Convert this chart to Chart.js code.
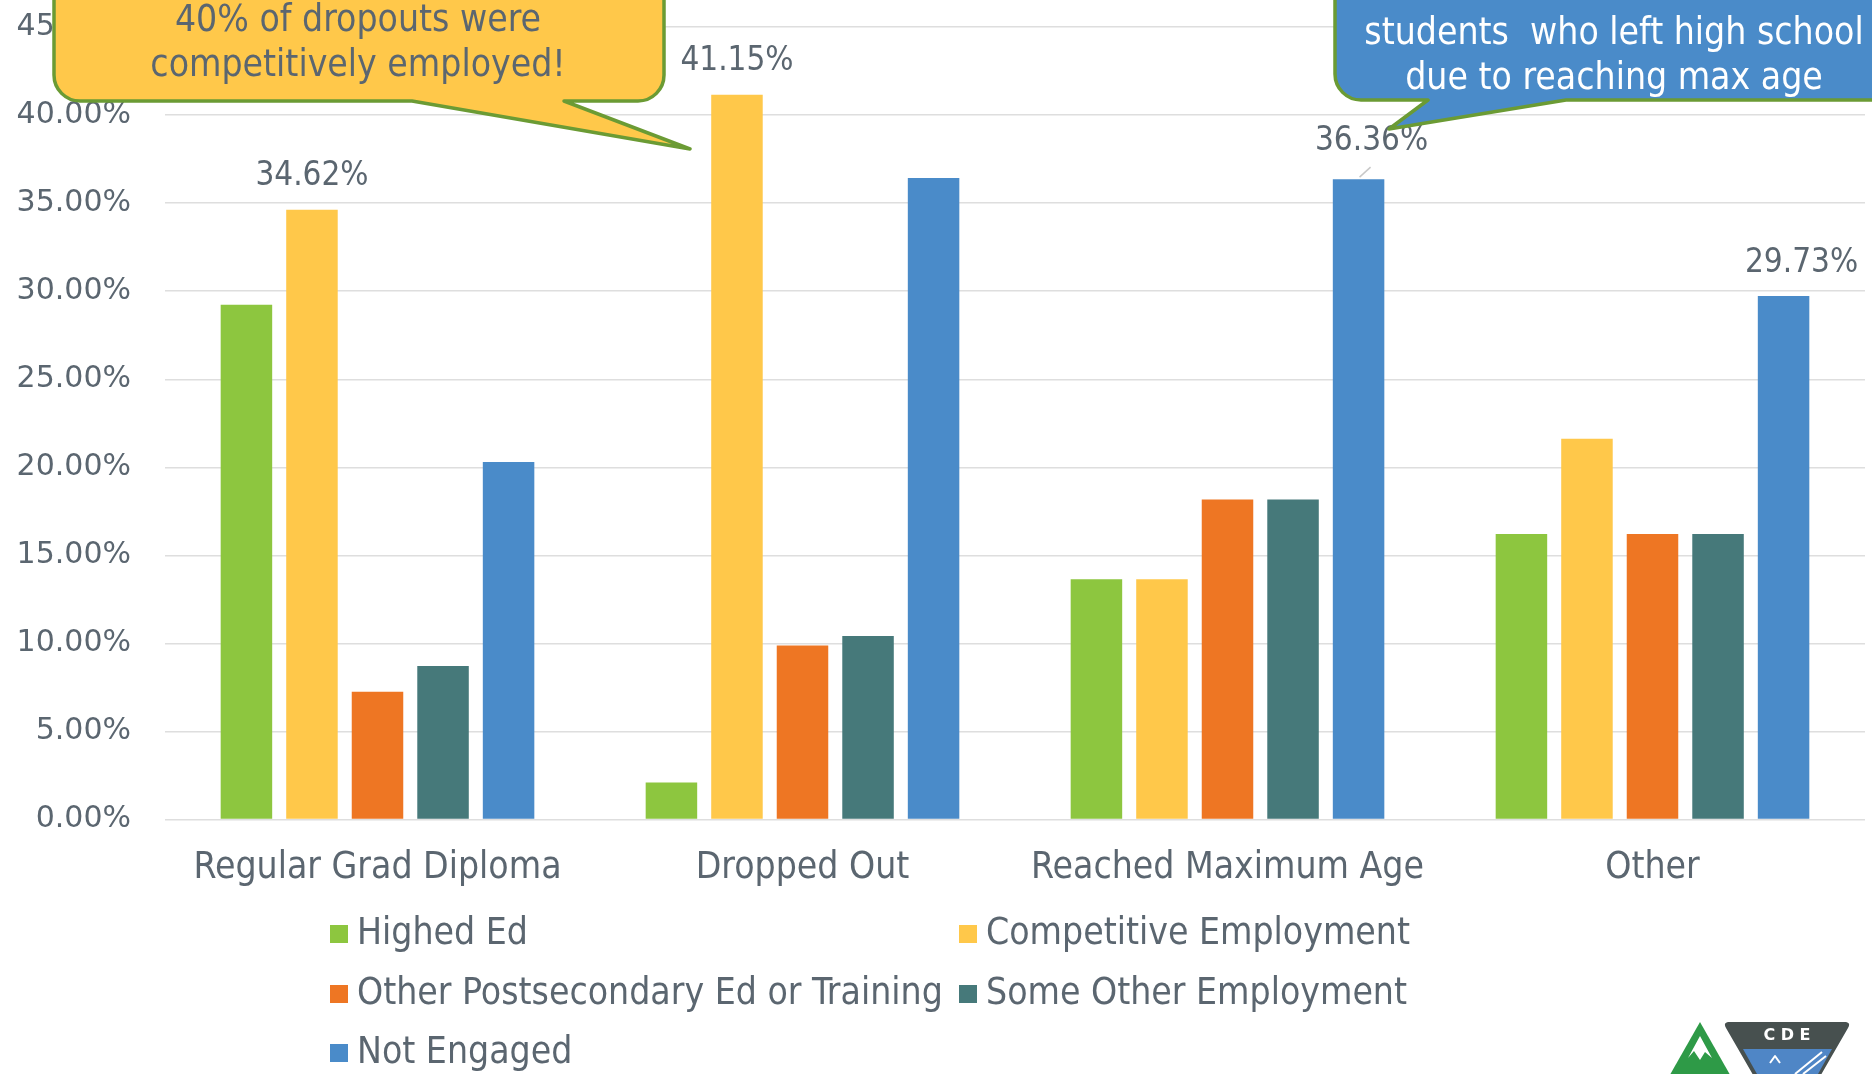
<!DOCTYPE html>
<html>
<head>
<meta charset="utf-8">
<script src="https://cdn.jsdelivr.net/npm/chart.js@4.4.0/dist/chart.umd.min.js"></script>
<style>
  html, body { margin: 0; padding: 0; background: #fff; }
  #wrap { width: 1872px; height: 1074px; position: relative; }
</style>
</head>
<body>
<div id="wrap"><canvas id="chart"></canvas></div>
<script>
// data
const categories = ["Regular Grad Diploma", "Dropped Out", "Reached Maximum Age", "Other"];
const seriesNames = ["Highed Ed", "Competitive Employment", "Other Postsecondary Ed or Training", "Some Other Employment", "Not Engaged"];
const highedEd = [29.23, 2.10, 13.64, 16.22];
const competitive = [34.62, 41.15, 13.64, 21.62];
const otherPostsec = [7.26, 9.88, 18.18, 16.22];
const someOther = [8.72, 10.43, 18.18, 16.22];
const notEngaged = [20.30, 36.42, 36.36, 29.73];
const yTicks = [0, 5, 10, 15, 20, 25, 30, 35, 40, 45];

const colors = ["#8dc63f", "#ffc84a", "#ee7623", "#46797a", "#4a8bc9"];
const textColor = "#5b6670";
const narrow = "'DejaVu Sans Condensed', 'DejaVu Sans', sans-serif";

// the tallest bar of each group carries its value
const labelOffsets = [[0, 33], [0, 33], [13, 38], [18, 33]];

const valueLabels = {
    id: "valueLabels",
    afterDatasetsDraw(chart) {
        const ctx = chart.ctx;
        ctx.save();
        ctx.font = "33px " + narrow;
        ctx.fillStyle = textColor;
        ctx.textAlign = "center";
        ctx.textBaseline = "middle";
        categories.forEach((c, i) => {
            let best = 0;
            chart.data.datasets.forEach((ds, d) => {
                if (ds.data[i] > chart.data.datasets[best].data[i]) best = d;
            });
            const bar = chart.getDatasetMeta(best).data[i];
            const [dx, dy] = labelOffsets[i];
            if (i === 2) {
                ctx.strokeStyle = "#c8c8c8";
                ctx.lineWidth = 1.5;
                ctx.beginPath();
                ctx.moveTo(bar.x + 1, bar.y - 2);
                ctx.lineTo(bar.x + 12, bar.y - 12);
                ctx.stroke();
            }
            const v = chart.data.datasets[best].data[i];
            ctx.fillText(v.toFixed(2) + "%", bar.x + dx, bar.y - dy);
        });
        ctx.restore();
    }
};

const gridLegend = {
    id: "gridLegend",
    afterDraw(chart) {
        const ctx = chart.ctx;
        const cols = [330, 959];
        const rows = [934, 994, 1053];
        ctx.save();
        ctx.font = "37px " + narrow;
        ctx.textBaseline = "middle";
        ctx.textAlign = "left";
        chart.data.datasets.forEach((ds, k) => {
            const x = cols[k % 2];
            const y = rows[Math.floor(k / 2)];
            ctx.fillStyle = ds.backgroundColor;
            ctx.fillRect(x, y - 9, 18, 18);
            ctx.fillStyle = textColor;
            ctx.fillText(ds.label, x + 27, y);
        });
        ctx.restore();
    }
};

function bubble(ctx, x0, y0, x1, y1, r, ta, tb, tip, fill) {
    ctx.beginPath();
    ctx.moveTo(x0 + r, y0);
    ctx.lineTo(x1 - r, y0);
    ctx.arcTo(x1, y0, x1, y0 + r, r);
    ctx.lineTo(x1, y1 - r);
    ctx.arcTo(x1, y1, x1 - r, y1, r);
    ctx.lineTo(tb, y1);
    ctx.lineTo(tip[0], tip[1]);
    ctx.lineTo(ta, y1);
    ctx.lineTo(x0 + r, y1);
    ctx.arcTo(x0, y1, x0, y1 - r, r);
    ctx.lineTo(x0, y0 + r);
    ctx.arcTo(x0, y0, x0 + r, y0, r);
    ctx.closePath();
    ctx.fillStyle = fill;
    ctx.fill();
    ctx.strokeStyle = "#6b9b34";
    ctx.lineWidth = 3.5;
    ctx.lineJoin = "round";
    ctx.stroke();
}

const callouts = {
    id: "callouts",
    afterDraw(chart) {
        const ctx = chart.ctx;
        ctx.save();
        bubble(ctx, 54, -80, 664, 101, 26, 412, 564, [690, 149], "#ffc84a");
        bubble(ctx, 1335, -80, 1920, 100, 26, 1428, 1566, [1389, 129], "#4a8bc9");
        ctx.font = "37px " + narrow;
        ctx.textAlign = "center";
        ctx.textBaseline = "middle";
        ctx.fillStyle = textColor;
        ctx.fillText("40% of dropouts were", 358, 21);
        ctx.fillText("competitively employed!", 358, 66);
        ctx.fillStyle = "#ffffff";
        ctx.fillText("students  who left high school", 1614, 34);
        ctx.fillText("due to reaching max age", 1614, 79);

        // CDE logo, bottom right
        ctx.fillStyle = "#2e9a47";
        ctx.beginPath();
        ctx.moveTo(1700, 1022);
        ctx.lineTo(1733, 1080);
        ctx.lineTo(1667, 1080);
        ctx.closePath();
        ctx.fill();
        ctx.fillStyle = "#ffffff";
        ctx.beginPath();
        ctx.moveTo(1700, 1036);
        ctx.lineTo(1712, 1058);
        ctx.lineTo(1705, 1052);
        ctx.lineTo(1700, 1060);
        ctx.lineTo(1694, 1051);
        ctx.lineTo(1688, 1058);
        ctx.closePath();
        ctx.fill();
        ctx.fillStyle = "#47504f";
        ctx.beginPath();
        ctx.moveTo(1728, 1022);
        ctx.lineTo(1846, 1022);
        ctx.quadraticCurveTo(1851, 1023, 1848, 1028);
        ctx.lineTo(1818, 1080);
        ctx.lineTo(1756, 1080);
        ctx.lineTo(1726, 1028);
        ctx.quadraticCurveTo(1723, 1023, 1728, 1022);
        ctx.closePath();
        ctx.fill();
        ctx.fillStyle = "#4f86c6";
        ctx.beginPath();
        ctx.moveTo(1743, 1049);
        ctx.lineTo(1832, 1049);
        ctx.lineTo(1818, 1074);
        ctx.lineTo(1757, 1074);
        ctx.closePath();
        ctx.fill();
        ctx.strokeStyle = "#ffffff";
        ctx.lineWidth = 2;
        ctx.beginPath();
        ctx.moveTo(1770, 1063); ctx.lineTo(1775, 1056); ctx.lineTo(1780, 1063);
        ctx.moveTo(1795, 1074); ctx.lineTo(1822, 1052);
        ctx.moveTo(1803, 1074); ctx.lineTo(1826, 1056);
        ctx.stroke();
        ctx.fillStyle = "#ffffff";
        ctx.font = "bold 16px 'DejaVu Sans', sans-serif";
        ctx.textAlign = "center";
        ctx.fillText("C D E", 1787, 1036);
        ctx.restore();
    }
};

const datasets = [highedEd, competitive, otherPostsec, someOther, notEngaged].map((values, k) => ({
    label: seriesNames[k],
    data: values,
    backgroundColor: colors[k],
    borderWidth: 0,
    categoryPercentage: 0.771,
    barPercentage: 0.786,
}));

const config = {
    type: "bar",
    data: { labels: categories, datasets: datasets },
    plugins: [valueLabels, gridLegend, callouts],
    options: {
        responsive: false,
        animation: false,
        layout: { padding: { top: 27, right: 7, bottom: 156, left: 0 } },
        plugins: {
            legend: { display: false },
            tooltip: { enabled: false },
        },
        scales: {
            x: {
                grid: { display: false, drawTicks: false },
                border: { display: false },
                ticks: {
                    color: textColor,
                    font: { family: narrow, size: 37 },
                    padding: 27,
                },
            },
            y: {
                min: 0,
                max: 45,
                afterBuildTicks: (scale) => { scale.ticks = yTicks.map((v) => ({ value: v })); },
                afterFit: (scale) => { scale.width = 165; },
                grid: { color: "#dedede", lineWidth: 1.5, drawTicks: true, tickLength: 34, tickColor: "rgba(0,0,0,0)" },
                border: { display: false },
                ticks: {
                    color: textColor,
                    font: { family: "'DejaVu Sans', sans-serif", size: 30 },
                    padding: 0,
                    callback: (v) => v.toFixed(2) + "%",
                },
            },
        },
    },
};

const canvas = document.getElementById("chart");
canvas.width = 1872;
canvas.height = 1074;
new Chart(canvas, config);
</script>
</body>
</html>
